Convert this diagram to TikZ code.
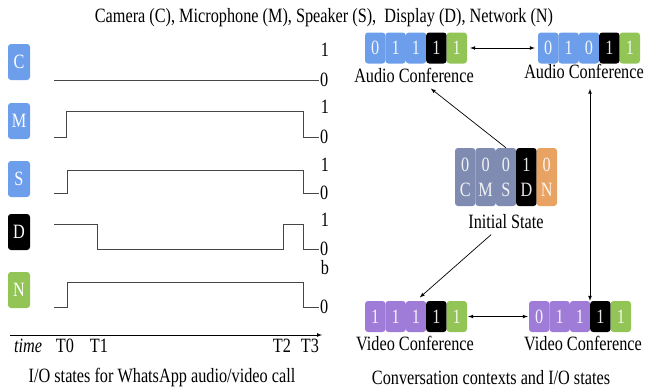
\documentclass[tikz,border=0pt]{standalone}
\usepackage{fontspec}
\setmainfont{Liberation Serif}[FakeStretch=0.8]
\usetikzlibrary{arrows}
\definecolor{camblue}{RGB}{109,158,235}
\definecolor{netgreen}{RGB}{146,196,86}
\definecolor{slate}{RGB}{127,139,176}
\definecolor{netorange}{RGB}{232,162,98}
\definecolor{vidpurple}{RGB}{158,124,216}
\definecolor{wavegray}{RGB}{70,70,70}

\begin{document}
\begin{tikzpicture}[x=1bp, y=-1bp, font=\fontsize{20.3bp}{25bp}\selectfont, >=latex]
\tikzstyle{dev} = [rectangle, rounded corners=3bp, minimum width=22bp, minimum height=36bp, inner sep=0pt, text=white]
\tikzstyle{cell} = [rectangle, rounded corners=3bp, minimum width=20.4bp, minimum height=31bp, inner sep=0pt, text=white, text opacity=0.9]
\tikzstyle{wave} = [draw=wavegray, line width=0.9bp]
\tikzstyle{lvl} = [inner sep=1bp]
\tikzstyle{conn} = [line width=0.7bp]
\tikzstyle{caption} = [inner sep=3bp, outer sep=3bp]

\useasboundingbox (0,0) rectangle (647,390);

\node (title) at (324,18) {Camera (C), Microphone (M), Speaker (S), \ Display (D), Network (N)};

% devices and their I/O states
\node[dev, fill=camblue] (C) at (19,62) {C};
\node[dev, fill=camblue] (M) at (19,121) {M};
\node[dev, fill=camblue] (S) at (19,179) {S};
\node[dev, fill=black] (D) at (19,232) {D};
\node[dev, fill=netgreen] (N) at (19,290) {N};

\node[lvl] (C1) at (325,50) {1};
\node[lvl, anchor=west] (C0) at (319,80) {0};
\node[lvl] (M1) at (325,107) {1};
\node[lvl, anchor=west] (M0) at (319,137) {0};
\node[lvl] (S1) at (325,165) {1};
\node[lvl, anchor=west] (S0) at (319,193) {0};
\node[lvl] (D1) at (325,220) {1};
\node[lvl, anchor=west] (D0) at (319,249) {0};
\node[lvl] (N1) at (325,268) {b};
\node[lvl, anchor=west] (N0) at (319,307) {0};

\draw[wave] (54,80) -- (C0.west);
\draw[wave] (54,137) -- (66,137) -- (66,111) -- (303,111) -- (303,137) -- (M0.west);
\draw[wave] (54,193) -- (67,193) -- (67,170) -- (303,170) -- (303,193) -- (S0.west);
\draw[wave] (54,224) -- (97,224) -- (97,249) -- (283,249) -- (283,224) -- (303,224) -- (303,249) -- (D0.west);
\draw[wave] (54,307) -- (67,307) -- (67,282) -- (303,282) -- (303,307) -- (N0.west);

% time axis
\coordinate (tstart) at (10,335);
\coordinate (tend) at (322,335);
\draw[conn, ->] (tstart) -- (tend);
\node (time) at (28,346) {\textit{time}};
\node (T0) at (65,346) {T0};
\node (T1) at (99,346) {T1};
\node (T2) at (282,346) {T2};
\node (T3) at (310,346) {T3};
\node (leftcap) at (162,378) {I/O states for WhatsApp audio/video call};

% conversation contexts
\foreach \v/\c [count=\i] in {0/camblue,1/camblue,1/camblue,1/black,1/netgreen}
  \node[cell, fill=\c] (al\i) at ({365+20.4*\i-10.2},48) {\v};
\foreach \v/\c [count=\i] in {0/camblue,1/camblue,0/camblue,1/black,1/netgreen}
  \node[cell, fill=\c] (ar\i) at ({538+20.4*\i-10.2},48) {\v};
\foreach \v/\lt/\c [count=\i] in {0/C/slate,0/M/slate,0/S/slate,1/D/black,0/N/netorange}
  \node[cell, fill=\c, minimum height=58bp, align=center] (is\i) at ({455+20.4*\i-10.2},177) {\v\\\lt};
\foreach \v/\c [count=\i] in {1/vidpurple,1/vidpurple,1/vidpurple,1/black,1/netgreen}
  \node[cell, fill=\c] (vl\i) at ({365+20.4*\i-10.2},316.5) {\v};
\foreach \v/\c [count=\i] in {0/vidpurple,1/vidpurple,1/vidpurple,1/black,1/netgreen}
  \node[cell, fill=\c] (vr\i) at ({529+20.4*\i-10.2},316.5) {\v};

\node[caption] (allabel) at (414,75.3) {Audio Conference};
\node[caption] (arlabel) at (584,71.5) {Audio Conference};
\node[caption] (islabel) at (506,221.5) {Initial State};
\node[caption] (vllabel) at (415,343.5) {Video Conference};
\node[caption] (vrlabel) at (583,343.5) {Video Conference};
\node (rightcap) at (491,378) {Conversation contexts and I/O states};

\draw[conn, <->, shorten <=3bp, shorten >=3bp] (al5) -- (ar1);
\draw[conn, <->, shorten <=1bp, shorten >=1bp] (vl5) -- (vr1);
\draw[conn, ->] (is3.north) -- (allabel);
\draw[conn, ->, shorten >=5bp] (islabel) -- (vl3.north);
\draw[conn, <->, shorten <=4bp] (arlabel.south -| vr4.north west) -- (vr4.north west);

\end{tikzpicture}
\end{document}
